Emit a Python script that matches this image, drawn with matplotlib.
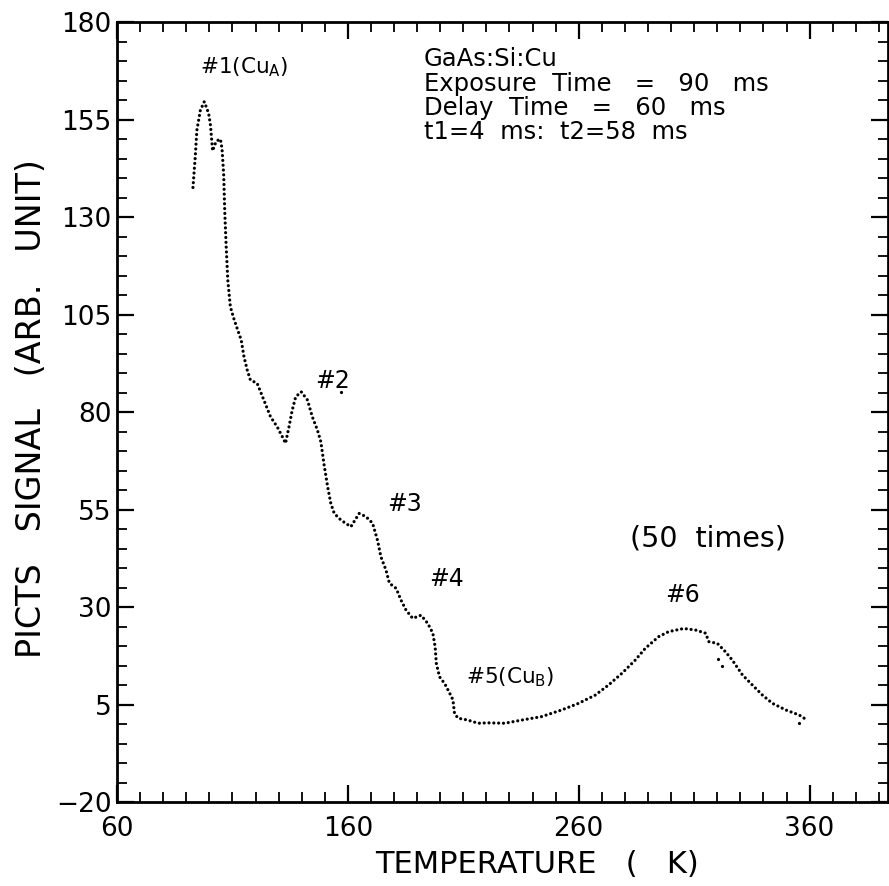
import matplotlib
matplotlib.use("Agg")
import matplotlib.pyplot as plt
from matplotlib.ticker import MultipleLocator, FixedLocator

plt.rcParams['font.family'] = ['DejaVu Sans']
plt.rcParams['mathtext.fontset'] = 'dejavusans'

# PICTS signal (temperature K, signal arb. unit)
temperature = [92.9, 93.9, 94.6, 96.1, 97.8, 99.7, 100.5, 101.4, 103.0, 104.8, 105.5, 106.2,
               106.7, 107.3, 108.0, 109.1, 110.6, 112.3, 113.8, 115.0, 116.4, 117.8, 120.7,
               123.6, 126.5, 129.4, 131.6, 133.0, 134.5, 135.9, 137.4, 139.8, 142.5, 144.6,
               146.8, 148.3, 149.7, 151.2, 152.6, 154.1, 157.0, 161.3, 164.9, 167.8, 170.7,
               172.9, 174.3, 176.5, 178.0, 180.9, 183.0, 185.2, 188.1, 191.7, 194.6, 196.8,
               197.8, 198.3, 199.7, 201.9, 204.1, 205.5, 206.2, 207.7, 212.0, 216.4, 220.7,
               228.0, 235.2, 243.9, 252.6, 259.9, 267.1, 272.9, 278.7, 284.5, 288.8, 294.6,
               299.0, 305.5, 310.6, 314.9, 316.4, 320.0, 323.6, 326.5, 330.9, 335.2, 339.6,
               343.9, 349.7, 355.5, 358.4]
signal = [137.6, 145.5, 152.3, 157.4, 159.6, 156.6, 153.5, 147.0, 149.5, 150.0, 147.5, 141.0,
          131.0, 122.4, 113.8, 107.0, 104.0, 101.0, 98.5, 94.2, 90.8, 88.2, 87.4,
          83.1, 78.8, 76.2, 73.7, 72.0, 76.2, 80.5, 83.9, 85.2, 83.1, 78.8,
          75.4, 72.4, 66.5, 61.0, 56.6, 54.0, 52.3, 50.6, 54.0, 53.2, 51.5,
          47.0, 42.9, 39.5, 36.1, 34.8, 31.8, 29.2, 27.1, 27.9, 25.8, 23.3,
          19.8, 15.6, 12.1, 10.4, 7.9, 6.2, 2.7, 1.5, 1.0, 0.2, 0.3,
          0.2, 1.0, 1.9, 3.6, 5.3, 7.4, 10.0, 13.0, 16.4, 19.4, 22.4,
          23.7, 24.5, 24.1, 23.3, 21.1, 20.7, 18.5, 16.4, 12.6, 10.0, 7.4,
          5.3, 3.6, 2.3, 1.2]

# stray points
stray_t = [157.2, 320.4, 322.2, 355.5]
stray_s = [85.2, 16.6, 14.9, 0.3]

x_major = [60, 160, 260, 360]
y_major = [-20, 5, 30, 55, 80, 105, 130, 155, 180]

fig = plt.figure(figsize=(8.89, 8.86), dpi=100)
ax = fig.add_axes([0.1316, 0.0948, 0.8674, 0.8802])

ax.plot(temperature, signal, color='black', lw=2.3, linestyle=(0, (0.01, 1.5)),
        dash_capstyle='round')
ax.plot(stray_t, stray_s, 'o', color='black', ms=2.3, mew=0)

ax.set_xlim(60, 394)
ax.set_ylim(-20, 180)
ax.xaxis.set_major_locator(FixedLocator(x_major))
ax.xaxis.set_minor_locator(MultipleLocator(10))
ax.yaxis.set_major_locator(FixedLocator(y_major))
ax.yaxis.set_minor_locator(MultipleLocator(5))

ax.tick_params(which='both', direction='in', top=True, right=True, color='black')
ax.tick_params(which='major', length=12, width=1.6, labelsize=19, pad=4)
ax.tick_params(which='minor', length=7, width=1.3)
ax.tick_params(axis='x', which='major', pad=10)
for s in ax.spines.values():
    s.set_linewidth(2)

ax.set_xlabel('TEMPERATURE   (   K)', fontsize=22)
ax.xaxis.set_label_coords(0.545, -0.061)
ax.set_ylabel('PICTS   SIGNAL   (ARB.   UNIT)', fontsize=24)
ax.yaxis.set_label_coords(-0.0895, 0.505)

fs = 17.5
ys = [0.9526, 0.9206, 0.8896, 0.8596]
lines = ['GaAs:Si:Cu', 'Exposure  Time   =   90   ms', 'Delay  Time   =   60   ms',
         't1=4  ms:  t2=58  ms']
for yy, tx in zip(ys, lines):
    ax.text(0.398, yy, tx, transform=ax.transAxes, fontsize=fs, va='center')

lab = 15.5
ax.text(96, 168.5, r'#1(Cu$_{\mathregular{A}}$)', fontsize=lab, va='center')
ax.text(146, 88.0, '#2', fontsize=17, va='center')
ax.text(177, 56.5, '#3', fontsize=17, va='center')
ax.text(195, 37.3, '#4', fontsize=17, va='center')
ax.text(211, 12, r'#5(Cu$_{\mathregular{B}}$)', fontsize=lab, va='center')
ax.text(297.5, 33.0, '#6', fontsize=17, va='center')
ax.text(282, 47.5, '(50  times)', fontsize=20.5, va='center')

fig.savefig('out.png', dpi=100)
